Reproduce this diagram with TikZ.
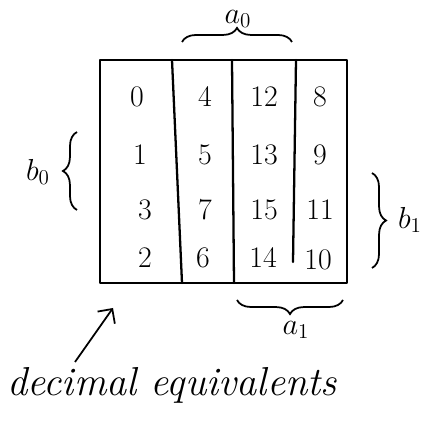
\documentclass[tikz,border=0pt]{standalone}
\usetikzlibrary{decorations.pathreplacing,arrows.meta}
\begin{document}
\begin{tikzpicture}[x=0.02cm,y=-0.02cm,
  cell/.style={font=\fontsize{17}{20}\selectfont},
  lbl/.style={font=\fontsize{18}{21}\selectfont\itshape},
  grid/.style={line width=1.3pt,line cap=round,line join=round},
  brc/.style={line width=1pt,decorate,decoration={brace,amplitude=8pt}}]
\useasboundingbox (0,0) rectangle (430,425);
% outer box
\coordinate (tl) at (100,60);
\coordinate (tr) at (347,60);
\coordinate (br) at (347,283);
\coordinate (bl) at (100,283);
\draw[grid] (tl) -- (tr) -- (br) -- (bl) -- cycle;
% column separators
\coordinate (c1t) at (172,60); \coordinate (c1b) at (182,283);
\coordinate (c2t) at (232,60); \coordinate (c2b) at (234,283);
\coordinate (c3t) at (296,60); \coordinate (c3b) at (293,262);
\draw[grid] (c1t) -- (c1b);
\draw[grid] (c2t) -- (c2b);
\draw[grid] (c3t) -- (c3b);
% cells
\node[cell] (n0) at (137,97) {0};
\node[cell] (n4) at (205,97) {4};
\node[cell] (n12) at (264,97) {12};
\node[cell] (n8) at (320,97) {8};
\node[cell] (n1) at (140,155) {1};
\node[cell] (n5) at (205,155) {5};
\node[cell] (n13) at (264,155) {13};
\node[cell] (n9) at (320,155) {9};
\node[cell] (n3) at (145,210) {3};
\node[cell] (n7) at (205,210) {7};
\node[cell] (n15) at (264,210) {15};
\node[cell] (n11) at (320,210) {11};
\node[cell] (n2) at (145,258) {2};
\node[cell] (n6) at (203,258) {6};
\node[cell] (n14) at (263,258) {14};
\node[cell] (n10) at (318,260) {10};
% braces
\coordinate (a0l) at (182,42); \coordinate (a0r) at (292,42);
\draw[brc] (a0l) -- (a0r);
\node[lbl] (a0) at (238,19) {$a_0$};
\coordinate (b0t) at (77,132); \coordinate (b0b) at (77,210);
\draw[brc] (b0b) -- (b0t);
\node[lbl] (b0) at (38,172) {$b_0$};
\coordinate (b1t) at (372,173); \coordinate (b1b) at (372,268);
\draw[brc] (b1t) -- (b1b);
\node[lbl] (b1) at (410,220) {$b_1$};
\coordinate (a1l) at (237,300); \coordinate (a1r) at (343,300);
\draw[brc] (a1r) -- (a1l);
\node[lbl] (a1) at (296,330) {$a_1$};
% decimal equivalents
\node[font=\fontsize{23}{27}\selectfont\itshape] (dec) at (172,385) {decimal equivalents};
\coordinate (arrs) at (75,362);
\coordinate (arr) at (113,308);
\draw[line width=1pt,-{Straight Barb[length=6pt]}] (arrs) -- (arr);
\end{tikzpicture}
\end{document}
